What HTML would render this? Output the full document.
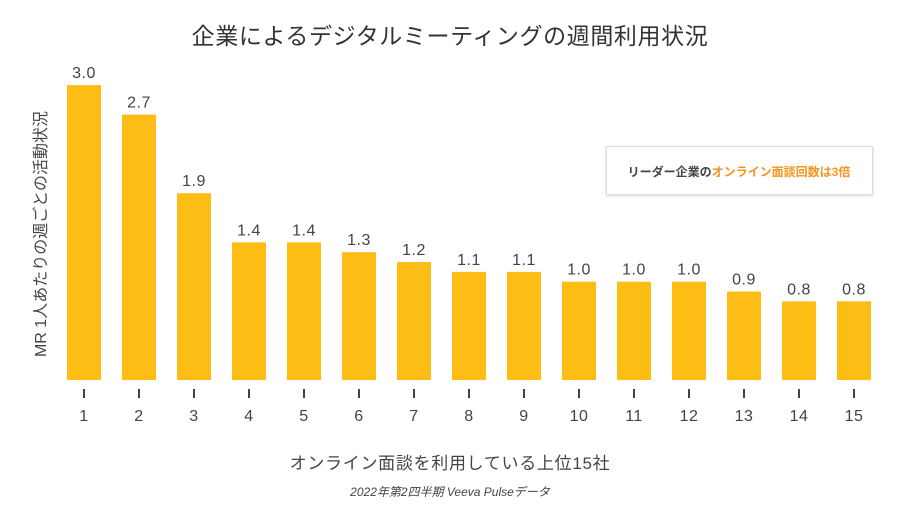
<!DOCTYPE html>
<html><head><meta charset="utf-8"><style>
body{margin:0;background:#fff;width:900px;height:513px;overflow:hidden}
svg text{font-family:"Liberation Sans","Noto Sans CJK JP",sans-serif}
</style></head><body>
<svg width="900" height="513" xmlns="http://www.w3.org/2000/svg">
<defs><filter id="sh" x="-10%" y="-20%" width="120%" height="150%"><feDropShadow dx="0" dy="1" stdDeviation="1.5" flood-color="#000" flood-opacity="0.15"/></filter></defs>
<text x="450" y="44" text-anchor="middle" font-size="23" letter-spacing="0.6" fill="#333">企業によるデジタルミーティングの週間利用状況</text>
<text transform="translate(46,234) rotate(-90)" text-anchor="middle" font-size="16" fill="#444">MR 1人あたりの週ごとの活動状況</text>
<g id="bars" fill="#FDBD14"></g>
<g id="lbl" font-size="16" fill="#444" text-anchor="middle" letter-spacing="0.5"></g>
<rect x="606.5" y="146.5" width="266" height="48" fill="#fff" stroke="#ddd" filter="url(#sh)"/>
<text x="739" y="176" text-anchor="middle" font-size="12" font-weight="bold" fill="#444">リーダー企業の<tspan fill="#F7941D">オンライン面談回数は3倍</tspan></text>
<text x="450" y="469" text-anchor="middle" font-size="17" letter-spacing="0.7" fill="#444">オンライン面談を利用している上位15社</text>
<text x="450" y="496" text-anchor="middle" font-size="12" font-style="italic" fill="#444">2022年第2四半期 Veeva Pulseデータ</text>
</svg>
<script>
var v=[3.0,2.7,1.9,1.4,1.4,1.3,1.2,1.1,1.1,1.0,1.0,1.0,0.9,0.8,0.8];
var b=document.getElementById('bars'),l=document.getElementById('lbl');
var bs="",ls="";
v.forEach(function(d,i){var x=67+55*i,h=d*98.3,y=380-h;
bs+='<rect x="'+x+'" y="'+y+'" width="34" height="'+h+'"/>';
ls+='<text x="'+(x+17)+'" y="'+(y-7)+'">'+d.toFixed(1)+'</text>';
ls+='<rect x="'+(x+16)+'" y="389" width="2" height="9" fill="#444"/>';
ls+='<text x="'+(x+17)+'" y="421">'+(i+1)+'</text>';});
b.innerHTML=bs;l.innerHTML=ls;
</script>
</body></html>
